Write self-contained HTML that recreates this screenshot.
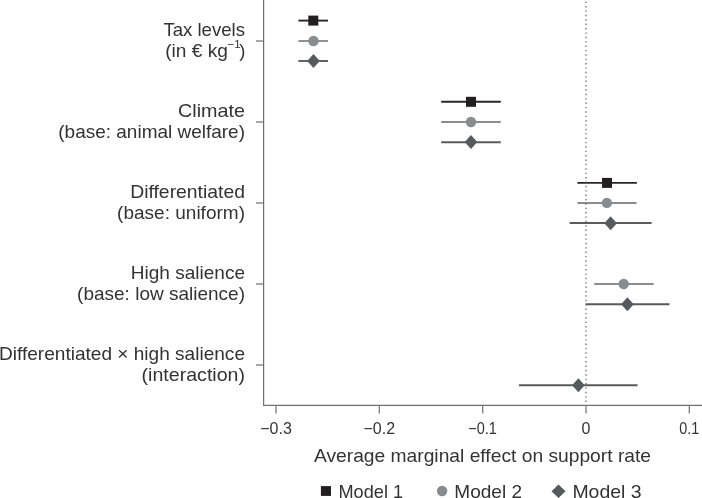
<!DOCTYPE html>
<html><head><meta charset="utf-8">
<style>
html,body{margin:0;padding:0;background:#fff;}
svg{display:block;will-change:transform;}
text{font-family:"Liberation Sans",sans-serif;fill:#333;}
.lab{font-size:18.4px;text-anchor:end;}
.tick{font-size:16px;text-anchor:middle;}
.ttl{font-size:18.4px;text-anchor:middle;}
.leg{font-size:18.4px;}
</style></head>
<body>
<svg width="702" height="498" viewBox="0 0 702 498">
<rect width="702" height="498" fill="#fff"/>
<!-- axes -->
<g stroke="#707070" stroke-width="1.2" fill="none">
<line x1="263.6" y1="0" x2="263.6" y2="405.9"/>
<line x1="263" y1="405.3" x2="702" y2="405.3"/>
<!-- y ticks -->
<line x1="256" y1="41" x2="263.6" y2="41"/>
<line x1="256" y1="122" x2="263.6" y2="122"/>
<line x1="256" y1="203" x2="263.6" y2="203"/>
<line x1="256" y1="284" x2="263.6" y2="284"/>
<line x1="256" y1="365" x2="263.6" y2="365"/>
<!-- x ticks -->
<line x1="276" y1="405.3" x2="276" y2="413.5"/>
<line x1="379.3" y1="405.3" x2="379.3" y2="413.5"/>
<line x1="482.7" y1="405.3" x2="482.7" y2="413.5"/>
<line x1="586" y1="405.3" x2="586" y2="413.5"/>
<line x1="689.3" y1="405.3" x2="689.3" y2="413.5"/>
</g>
<!-- error bars -->
<g stroke-width="1.9" fill="none">
<line x1="298.4" y1="20.6" x2="328" y2="20.6" stroke="#2a2627"/>
<line x1="298.4" y1="41" x2="328" y2="41" stroke="#8b8c8f"/>
<line x1="298.4" y1="61" x2="328" y2="61" stroke="#595a5d"/>
<line x1="441.2" y1="101.8" x2="500.8" y2="101.8" stroke="#2a2627"/>
<line x1="441.2" y1="122" x2="500.8" y2="122" stroke="#8b8c8f"/>
<line x1="441.2" y1="142.2" x2="500.8" y2="142.2" stroke="#595a5d"/>
<line x1="577.4" y1="182.9" x2="636.9" y2="182.9" stroke="#2a2627"/>
<line x1="577.4" y1="203" x2="636.5" y2="203" stroke="#8b8c8f"/>
<line x1="569.7" y1="223" x2="651.6" y2="223" stroke="#595a5d"/>
<line x1="594.3" y1="284" x2="653.6" y2="284" stroke="#8b8c8f"/>
<line x1="585.6" y1="304.3" x2="669.5" y2="304.3" stroke="#595a5d"/>
<line x1="519" y1="385.3" x2="637.6" y2="385.3" stroke="#595a5d"/>
</g>
<!-- zero reference dotted line -->
<line x1="586" y1="0" x2="586" y2="405" stroke="#6c6c6c" stroke-width="1.3" stroke-dasharray="1.4 2.983" stroke-dashoffset="2.683"/>
<!-- markers -->
<g fill="#231f20">
<rect x="308.3" y="15.6" width="10" height="10"/>
<rect x="466" y="96.8" width="10" height="10"/>
<rect x="602" y="177.9" width="10" height="10"/>
</g>
<g fill="#8a8b8e">
<circle cx="313.5" cy="41" r="5.2"/>
<circle cx="471" cy="122" r="5.2"/>
<circle cx="606.9" cy="202.9" r="5.2"/>
<circle cx="623.7" cy="284" r="5.2"/>
</g>
<g fill="#58595c">
<path d="M313.5 54.1 L319.8 61.1 L313.5 68.1 L307.2 61.1Z"/>
<path d="M471 135.0 L477.3 142 L471 149.0 L464.7 142Z"/>
<path d="M610.6 216.2 L616.9 223.2 L610.6 230.2 L604.3 223.2Z"/>
<path d="M627.4 297.2 L633.7 304.2 L627.4 311.2 L621.1 304.2Z"/>
<path d="M578.4 378.3 L584.7 385.3 L578.4 392.3 L572.1 385.3Z"/>
</g>
<!-- y labels -->
<g class="lab">
<text class="lab" x="245" y="36" textLength="81.6" lengthAdjust="spacingAndGlyphs">Tax levels</text>
<text x="165.2" y="57" font-size="18.4" text-anchor="start" textLength="62.7" lengthAdjust="spacingAndGlyphs">(in € kg</text><text x="227.6" y="48.4" font-size="11.5" text-anchor="start">−1</text><text x="245.3" y="57" font-size="18.4" text-anchor="end">)</text>
<text class="lab" x="245" y="117" textLength="67.0" lengthAdjust="spacingAndGlyphs">Climate</text>
<text class="lab" x="245" y="138" textLength="186.7" lengthAdjust="spacingAndGlyphs">(base: animal welfare)</text>
<text class="lab" x="245" y="198" textLength="114.8" lengthAdjust="spacingAndGlyphs">Differentiated</text>
<text class="lab" x="245" y="219" textLength="127.9" lengthAdjust="spacingAndGlyphs">(base: uniform)</text>
<text class="lab" x="245" y="279" textLength="114.2" lengthAdjust="spacingAndGlyphs">High salience</text>
<text class="lab" x="245" y="300" textLength="167.9" lengthAdjust="spacingAndGlyphs">(base: low salience)</text>
<text class="lab" x="245" y="360" textLength="246.0" lengthAdjust="spacingAndGlyphs">Differentiated × high salience</text>
<text class="lab" x="245" y="381" textLength="103.4" lengthAdjust="spacingAndGlyphs">(interaction)</text>
</g>
<!-- x tick labels -->
<text class="tick" x="276" y="433.8">−0.3</text>
<text class="tick" x="379.3" y="433.8">−0.2</text>
<text class="tick" x="482.5" y="433.8" textLength="28.6" lengthAdjust="spacingAndGlyphs">−0.1</text>
<text class="tick" x="586" y="433.8">0</text>
<text class="tick" x="689.3" y="433.8" textLength="20" lengthAdjust="spacingAndGlyphs">0.1</text>
<!-- x title -->
<text class="ttl" x="482.5" y="461.8" textLength="337.1" lengthAdjust="spacingAndGlyphs">Average marginal effect on support rate</text>
<!-- legend -->
<rect x="320.9" y="486.1" width="10.1" height="9.8" fill="#231f20"/>
<text class="leg" x="338.5" y="497.6" textLength="64.6" lengthAdjust="spacingAndGlyphs">Model 1</text>
<circle cx="442.1" cy="491" r="5.2" fill="#8a8b8e"/>
<text class="leg" x="454.3" y="497.6" textLength="67.8" lengthAdjust="spacingAndGlyphs">Model 2</text>
<path d="M558.5 484.5 L565.5 491.2 L558.5 497.9 L551.5 491.2Z" fill="#58595c"/>
<text class="leg" x="572.4" y="497.6" textLength="69.3" lengthAdjust="spacingAndGlyphs">Model 3</text>
</svg>
</body></html>
